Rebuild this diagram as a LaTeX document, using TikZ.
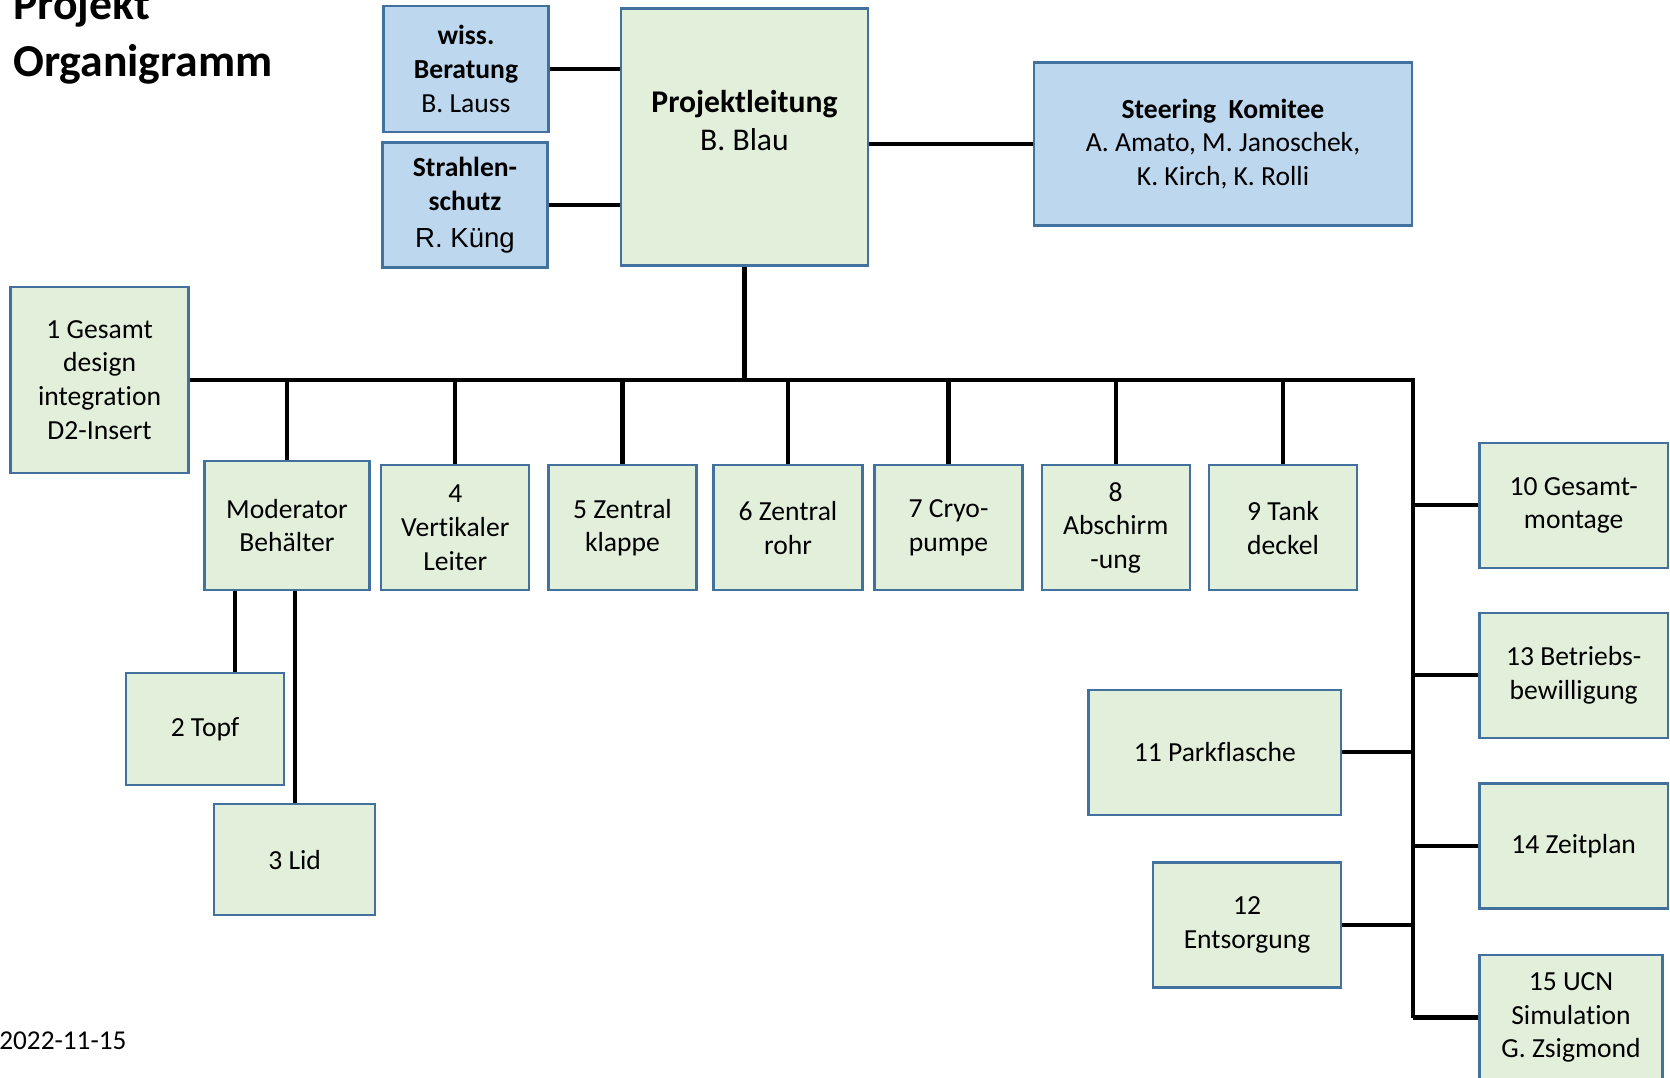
\documentclass[tikz,border=0pt]{standalone}
\usepackage{fontspec}
\setmainfont{Carlito}[Ligatures=NoCommon]
\newfontfamily\arialfont{Liberation Sans}
\usepackage{xcolor}
\usepackage{tikz}
\definecolor{boxgreen}{RGB}{226,239,218}
\definecolor{boxblue}{RGB}{189,215,238}
\definecolor{boxborder}{RGB}{65,113,156}
\tikzset{
    treenode/.style = {align=center, inner sep=0pt, text centered, font=\fontsize{15.7}{19.2}\selectfont},
    green_node/.style = {treenode, rectangle, draw=boxborder, fill=boxgreen, line width=1.3pt, minimum width=29.6mm, minimum height=25mm},
    blue_node/.style = {treenode, rectangle, draw=boxborder, fill=boxblue, line width=1.3pt, minimum width=33mm, minimum height=25mm},
    right_node/.style = {green_node, minimum width=37.7mm},
    link/.style = {line width=2.3pt, black}
}

\begin{document}
\begin{tikzpicture}
            [-, x=0.2mm, y=-0.2mm]

            \useasboundingbox (0,0) rectangle (1670,1078);

            \node [anchor=base west, align=left, inner sep=0pt, font=\fontsize{26}{32.8}\selectfont\bfseries]
                (title) at (12.8,76.7) {Projekt\\Organigramm};
            \node [anchor=base west, inner sep=0pt, font=\fontsize{15.5}{19}\selectfont]
                (date) at (-1,1049) {2022-11-15};

            \node [blue_node, minimum height=25.2mm] (wiss) at (466,69)
                {\textbf{wiss.}\\\textbf{Beratung}\\B. Lauss};
            \node [blue_node] (strahl) at (465,205)
                {\textbf{Strahlen-}\\\textbf{schutz}\\[2pt]{\arialfont R. Küng}};
            \node [green_node, minimum width=49.4mm, minimum height=51.4mm] (pl) at (744.5,137) {};
            \node [treenode, font=\fontsize{18}{21.6}\selectfont] (pltext) at (744.5,121)
                {\textbf{Projektleitung}\\B. Blau};
            \node [blue_node, minimum width=75.6mm, minimum height=32.6mm] (st) at (1223,144)
                {\textbf{Steering\ \ Komitee}\\A. Amato, M. Janoschek,\\K. Kirch, K. Rolli};

            \node [green_node, minimum width=35.6mm, minimum height=37.2mm] (b1) at (99.6,380)
                {1 Gesamt\\design\\integration\\D2-Insert};
            \node [green_node, minimum width=33mm, minimum height=25.8mm] (mod) at (287,525.6)
                {Moderator\\Behälter};
            \node [green_node] (b4) at (455.3,527.7) {4\\Vertikaler\\Leiter};
            \node [green_node] (b5) at (622.5,527.7) {5 Zentral\\klappe};
            \node [green_node, minimum width=29.8mm] (b6) at (788,527.7) {6 Zentral\\rohr};
            \node [green_node] (b7) at (948.5,527.7) {7 Cryo-\\pumpe};
            \node [green_node] (b8) at (1115.7,527.7) {8\\Abschirm\\-ung};
            \node [green_node] (b9) at (1283,527.7) {9 Tank\\deckel};

            \node [green_node, minimum width=31.7mm, minimum height=22.4mm] (b2) at (205,729) {2 Topf};
            \node [green_node, minimum width=32.2mm, minimum height=22.2mm] (b3) at (294.6,859.6) {3 Lid};

            \node [right_node] (b10) at (1573.7,505.4) {10 Gesamt-\\montage};
            \node [right_node] (b13) at (1573.7,675.3) {13 Betriebs-\\bewilligung};
            \node [right_node] (b14) at (1573.7,846) {14 Zeitplan};
            \node [right_node, minimum width=36.6mm] (b15) at (1571,1017.5)
                {15 UCN\\Simulation\\G. Zsigmond};
            \node [green_node, minimum width=50.5mm] (b11) at (1214.8,752.4) {11 Parkflasche};
            \node [green_node, minimum width=37.5mm] (b12) at (1247,925) {12\\Entsorgung};

            \draw [link] (wiss.east) -- (wiss.east -| pl.west);
            \draw [link] (strahl.east) -- (strahl.east -| pl.west);
            \draw [link] (st.west -| pl.east) -- (st.west);
            \draw [link] (pl.south) -- (pl.south |- b1.east);

            \coordinate (corner) at (1413.4,380);
            \draw [link] (b1.east) -- (corner) -- (corner |- b15.west);
            \foreach \n in {mod,b4,b5,b6,b7,b8,b9}
                \draw [link] (\n.north) -- (\n.north |- corner);
            \foreach \n in {b10,b13,b14,b15}
                \draw [link] (\n.west -| corner) -- (\n.west);
            \foreach \n in {b11,b12}
                \draw [link] (\n.east) -- (\n.east -| corner);

            \path (mod.south) ++(-51.6,0) coordinate (topfjoin);
            \draw [link] (topfjoin) -- (topfjoin |- b2.north);
            \draw [link] (mod.south -| b3.north) -- (b3.north);
        \end{tikzpicture}
\end{document}
